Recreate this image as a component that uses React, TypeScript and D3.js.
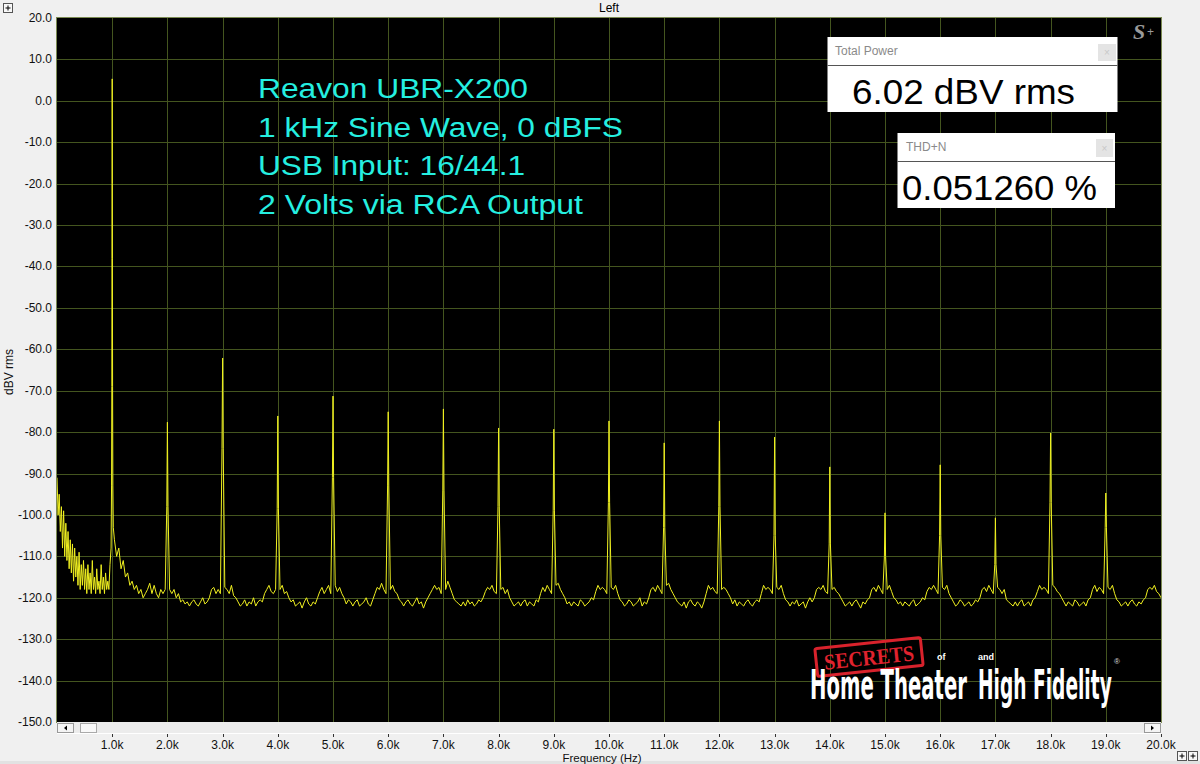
import React from "react";
import * as d3 from "d3";

const W = 1200;
const H = 764;

// ---- axis data ----
const xTickValues = [1000, 2000, 3000, 4000, 5000, 6000, 7000, 8000, 9000, 10000, 11000, 12000, 13000, 14000, 15000, 16000, 17000, 18000, 19000, 20000];
const xTickLabels = ["1.0k", "2.0k", "3.0k", "4.0k", "5.0k", "6.0k", "7.0k", "8.0k", "9.0k", "10.0k", "11.0k", "12.0k", "13.0k", "14.0k", "15.0k", "16.0k", "17.0k", "18.0k", "19.0k", "20.0k"];
const yTickValues = [20, 10, 0, -10, -20, -30, -40, -50, -60, -70, -80, -90, -100, -110, -120, -130, -140, -150];
const yTickLabels = ["20.0", "10.0", "0.0", "-10.0", "-20.0", "-30.0", "-40.0", "-50.0", "-60.0", "-70.0", "-80.0", "-90.0", "-100.0", "-110.0", "-120.0", "-130.0", "-140.0", "-150.0"];

// ---- annotation text ----
const noteLines = ["Reavon UBR-X200", "1 kHz Sine Wave, 0 dBFS", "USB Input: 16/44.1", "2 Volts via RCA Output"];
const noteWidths = [270, 365, 267, 325];
const totalPowerValue = "6.02 dBV rms";
const thdValue = "0.051260 %";

// ---- spectrum data ----
// low-frequency noise, 0..980 Hz every 20 Hz (dBV)
const lowNoise = [
  -91, -100, -95, -104, -98, -108, -99, -110, -102, -111,
  -104, -113, -106, -114, -107, -116, -108, -115, -110, -117,
  -109, -118, -112, -117, -111, -118, -113, -119, -112, -118,
  -114, -119, -111, -118, -115, -119, -113, -118, -116, -119,
  -112, -118, -115, -119, -114, -118, -116, -118, -112, -108,
];
// fundamental: [offset Hz, dBV]
const fundamentalShape: [number, number][] = [
  [-12, -93], [-7, -69], [-4, -38], [-2, -20], [0, 5.3], [2, -20], [4, -38], [7, -69], [12, -93], [20, -103],
];
// harmonics 2k..19k
const harmonicPeaks = [-77.6, -62.1, -76.1, -71.3, -75.1, -74.4, -79.0, -79.3, -77.3, -82.6, -77.3, -81.2, -88.4, -99.5, -87.9, -100.7, -80.2, -94.7];
const harmonicSkirts = [-98, -84, -98.5, -91, -93, -94, -98, -99, -97, -103, -98, -105, -107, -110, -105, -112, -97, -103];
// noise floor between harmonics: k*1000+40 .. k*1000+960 every 40 Hz (dB below 0)
const floorSegments = [
  "106 110 108 113 111 115 114 117 116 118 117 119 118 120 119 118 116.5 119 117 119 120 118 119 118",
  "118 119 118 120 119 121 120.5 121.5 121 122 121 120.5 121.5 122 121 120 121.5 121 120 118 117.5 119 118 119",
  "117.5 118 119 117 119.5 120 121 122 121.5 120.5 122 121 121.5 120 122 121 120.5 121 119 118 117 118.5 119 118",
  "118 117 119 118.5 120 121 120.5 122 121.5 121 122.5 121 120 121.5 122 121 121.5 120 118.5 117.5 119 118 117 119",
  "117 118.5 117.5 119 120 121.5 120.5 121 122 121 120.5 122 121.5 121 120 121.5 122 120.5 119 117.5 118 116.5 118 119",
  "118 117 118.5 119 120.5 121 122 121 120.5 121.5 122 121 120 121.5 121 122.5 121 120 119 118 117 118 117.5 119",
  "118 116 117.5 119 120.5 121 121.5 122 121 122 120.5 121.5 121 122 121.5 120.5 121 120 118.5 117.5 118 117 118.5 119",
  "118 117.5 119 118 120 121 122 121.5 121 122 121 120.5 122 121 121.5 122 120.5 121 119 117.5 118.5 117 118 119",
  "117 116.5 118 119 120 121.5 121 122 121 121.5 122 120.5 121 122 121.5 121 120 120.5 118.5 117 118 117.5 118 119",
  "117.5 118 117 119 120.5 121 122 121.5 120.5 121 122 121.5 121 120 122 121 121.5 120 118 117.5 118.5 117 118 119",
  "117 116.5 118 119 120 121 121.5 122 121 122.5 121 120.5 121.5 122 121 121.5 122.5 121 119 117 118 117.5 118.5 119",
  "118 117.5 118 119 120 121.5 120.5 122 121 121.5 122 121 120.5 121.5 122 121 120.5 121 119 117 118 117.5 118 119",
  "117.5 118 117 119 120.5 121 122 121 121.5 120.5 122 121.5 121 122.5 121 120 121 120 118 117.5 118 117 118.5 119",
  "118 117.5 118.5 119 120 121 122 121.5 121 122 121 120.5 121.5 122.5 121 121.5 120.5 120 118 117.5 118.5 117 118 119",
  "118 117 118.5 120 120.5 121.5 121 122 121 121.5 122 121 120.5 122 121.5 121 120 120.5 118.5 117.5 118 117 118 119",
  "117.5 118 117 119 120 121 122 121.5 120.5 121 122 121.5 121 122 121.5 120.5 121 120 118 117.5 118.5 117 118 119",
  "117.5 118 119 118 120.5 121 121.5 122 121 122 121 120.5 122 121.5 121 122 120.5 120 118.5 117 118 117.5 118 119",
  "117 117.5 118.5 119 120 121 122 121 121.5 122 120.5 121 122 121.5 121 122 120.5 120 118 117 118.5 117.5 118 119",
  "117.5 118 117 119 120.5 121 122 121.5 121 122 121 120.5 121.5 122 121 121.5 120.5 120 118 117.5 118 117 118.5 119",
  "118 117.5 118.5 119 120 121 122 121.5 121 122 121 120.5 121.5 122 121 121.5 120.5 121 119 118.5 117.5 118 119 118",
];
const endLevel = -120;

type Pt = { f: number; v: number };

function buildSpectrum(): Pt[] {
  const pts: Pt[] = [];
  lowNoise.forEach((v, i) => pts.push({ f: i * 20, v }));
  for (let k = 1; k <= 19; k++) {
    const fc = k * 1000;
    if (k === 1) {
      fundamentalShape.forEach(([df, v]) => pts.push({ f: fc + df, v }));
    } else {
      const s = harmonicSkirts[k - 2];
      pts.push({ f: fc - 11, v: s });
      pts.push({ f: fc, v: harmonicPeaks[k - 2] });
      pts.push({ f: fc + 11, v: s });
    }
    floorSegments[k - 1]
      .split(" ")
      .forEach((s, j) => pts.push({ f: fc + 40 * (j + 1), v: -Number(s) }));
  }
  pts.push({ f: 20000, v: endLevel });
  return pts;
}

const spectrum = buildSpectrum();

const FONT = "'Liberation Sans', Arial, Helvetica, sans-serif";

const PlusIcon = ({ x, y }: { x: number; y: number }) => (
  <g>
    <rect x={x + 0.5} y={y + 0.5} width={9} height={9} fill="#f8f8f8" stroke="#555" strokeWidth={1} />
    <line x1={x + 2.5} x2={x + 7.5} y1={y + 5} y2={y + 5} stroke="#000" strokeWidth={1} />
    <line x1={x + 5} x2={x + 5} y1={y + 2.5} y2={y + 7.5} stroke="#000" strokeWidth={1} />
  </g>
);

export default function App() {
  const left = 57;
  const right = 1161;
  const top = 18;
  const bottom = 722;

  const x = d3.scaleLinear().domain([0, 20000]).range([left, right]);
  const y = d3.scaleLinear().domain([-150, 20]).range([bottom, top]);

  const line = d3
    .line<Pt>()
    .x((d) => x(d.f))
    .y((d) => y(d.v));

  const gridColor = "#44551f";

  return (
    <svg
      width={W}
      height={H}
      viewBox={`0 0 ${W} ${H}`}
      style={{ position: "absolute", left: 0, top: 0, display: "block" }}
      fontFamily={FONT}
    >
      <defs>
        <clipPath id="plotClip">
          <rect x={left} y={top} width={right - left} height={bottom - top} />
        </clipPath>
      </defs>
      {/* page */}
      <rect x={0} y={0} width={W} height={H} fill="#f0f0f0" />
      <rect x={0} y={761} width={W} height={3} fill="#e2e2e2" />

      <PlusIcon x={3} y={3} />
      <PlusIcon x={1177} y={751} />
      <PlusIcon x={1188} y={751} />

      {/* title */}
      <text x={609} y={12} fontSize={12} textAnchor="middle" fill="#000">Left</text>

      {/* plot background */}
      <rect x={left} y={top} width={right - left} height={bottom - top} fill="#000" />

      {/* grid */}
      {xTickValues.slice(0, -1).map((v) => (
        <line key={"gx" + v} x1={Math.round(x(v)) + 0.5} x2={Math.round(x(v)) + 0.5} y1={top} y2={bottom} stroke={gridColor} strokeWidth={1} />
      ))}
      {yTickValues.slice(1, -1).map((v) => (
        <line key={"gy" + v} x1={left} x2={right} y1={Math.round(y(v)) + 0.5} y2={Math.round(y(v)) + 0.5} stroke={gridColor} strokeWidth={1} />
      ))}

      {/* annotation text */}
      {noteLines.map((t, i) => (
        <text
          key={t}
          x={258}
          y={98 + i * 38.7}
          fontSize={27}
          fill="#25efe0"
          textLength={noteWidths[i]}
          lengthAdjust="spacingAndGlyphs"
        >
          {t}
        </text>
      ))}

      {/* trace */}
      <g clipPath="url(#plotClip)">
        <path d={line(spectrum) || ""} fill="none" stroke="#f0f020" strokeWidth={1} strokeLinejoin="round" />
      </g>

      {/* watermark */}
      <g transform="translate(869,657) rotate(-6)">
        <rect x={-53} y={-14} width={106} height={28} fill="none" stroke="#d8222c" strokeWidth={3} rx={2} />
        <text x={0} y={8} textAnchor="middle" fontSize={22} fontWeight="bold" fontFamily="'Liberation Serif', 'DejaVu Serif', serif" fill="#e0222e" textLength={90} lengthAdjust="spacingAndGlyphs">SECRETS</text>
      </g>
      <g transform="translate(810,699) scale(0.48,1)">
        <text x={0} y={0} fontSize={41} fontWeight="bold" fontFamily="'DejaVu Sans', sans-serif" fill="#fff" textLength={327} lengthAdjust="spacingAndGlyphs">Home Theater</text>
      </g>
      <g transform="translate(978,699) scale(0.455,1)">
        <text x={0} y={0} fontSize={41} fontWeight="bold" fontFamily="'DejaVu Sans', sans-serif" fill="#fff" textLength={294} lengthAdjust="spacingAndGlyphs">High Fidelity</text>
      </g>
      <text x={937} y={660} fontSize={9} fontWeight="bold" fill="#fff">of</text>
      <text x={978} y={660} fontSize={9} fontWeight="bold" fill="#fff">and</text>
      <text x={1114} y={664} fontSize={8} fill="#ddd">®</text>

      {/* S+ logo */}
      <text x={1133} y={39} fontSize={22} fontStyle="italic" fontWeight="bold" fontFamily="'Liberation Serif', 'DejaVu Serif', serif" fill="#9a9a9a">S</text>
      <text x={1147} y={36} fontSize={12} fill="#9a9a9a">+</text>

      {/* Total Power box */}
      <g>
        <rect x={827.5} y={37} width={290} height={75} fill="#fff" />
        <line x1={827.5} x2={1117.5} y1={65.5} y2={65.5} stroke="#555" strokeWidth={1} />
        <text x={835} y={55} fontSize={12} fill="#8a8a8a">Total Power</text>
        <rect x={1098} y={44} width={18} height={17} fill="#e4e4e4" />
        <text x={1107} y={56} fontSize={10} textAnchor="middle" fill="#c8c8c8">×</text>
        <text x={852} y={103.5} fontSize={35} fill="#000" textLength={223} lengthAdjust="spacingAndGlyphs">{totalPowerValue}</text>
      </g>
      {/* THD+N box */}
      <g>
        <rect x={897.5} y={133} width={217.5} height={75} fill="#fff" />
        <line x1={897.5} x2={1115} y1={161.5} y2={161.5} stroke="#555" strokeWidth={1} />
        <text x={906} y={151} fontSize={12} fill="#8a8a8a">THD+N</text>
        <rect x={1096} y={139} width={17} height={18} fill="#e4e4e4" />
        <text x={1104.5} y={151.5} fontSize={10} textAnchor="middle" fill="#c8c8c8">×</text>
        <text x={902} y={199.5} fontSize={35} fill="#000" textLength={195} lengthAdjust="spacingAndGlyphs">{thdValue}</text>
      </g>

      {/* plot border */}
      <rect x={left - 0.5} y={top - 0.5} width={right - left + 1} height={bottom - top + 1} fill="none" stroke="#7b8a52" strokeWidth={1} />

      {/* scrollbar */}
      <rect x={left} y={722} width={right - left} height={11} fill="#ececec" />
      <line x1={left} x2={right} y1={733.5} y2={733.5} stroke="#fff" strokeWidth={1} />
      <rect x={57.5} y={723.5} width={16} height={9} fill="#f4f4f4" stroke="#999" strokeWidth={1} />
      <path d="M 64 728 L 67 725.5 L 67 730.5 Z" fill="#000" />
      <rect x={80.5} y={723.5} width={16} height={9} fill="#f9f9f9" stroke="#aaa" strokeWidth={1} />
      <rect x={1144.5} y={723.5} width={16} height={9} fill="#f4f4f4" stroke="#999" strokeWidth={1} />
      <path d="M 1154 728 L 1151 725.5 L 1151 730.5 Z" fill="#000" />

      {/* y axis labels */}
      {yTickValues.map((v, i) => (
        <text key={"yl" + v} x={52} y={y(v) + 4} fontSize={12} textAnchor="end" fill="#111">
          {yTickLabels[i]}
        </text>
      ))}
      <text transform="translate(13,372) rotate(-90)" fontSize={12} textAnchor="middle" fill="#111">dBV rms</text>

      {/* x axis ticks and labels */}
      {xTickValues.map((v, i) => (
        <g key={"xl" + v}>
          <line x1={Math.round(x(v)) + 0.5} x2={Math.round(x(v)) + 0.5} y1={734} y2={737} stroke="#333" strokeWidth={1} />
          <text x={x(v)} y={749} fontSize={12} textAnchor="middle" fill="#111">
            {xTickLabels[i]}
          </text>
        </g>
      ))}
      <text x={602} y={762} fontSize={11.5} textAnchor="middle" fill="#111">Frequency (Hz)</text>
    </svg>
  );
}
